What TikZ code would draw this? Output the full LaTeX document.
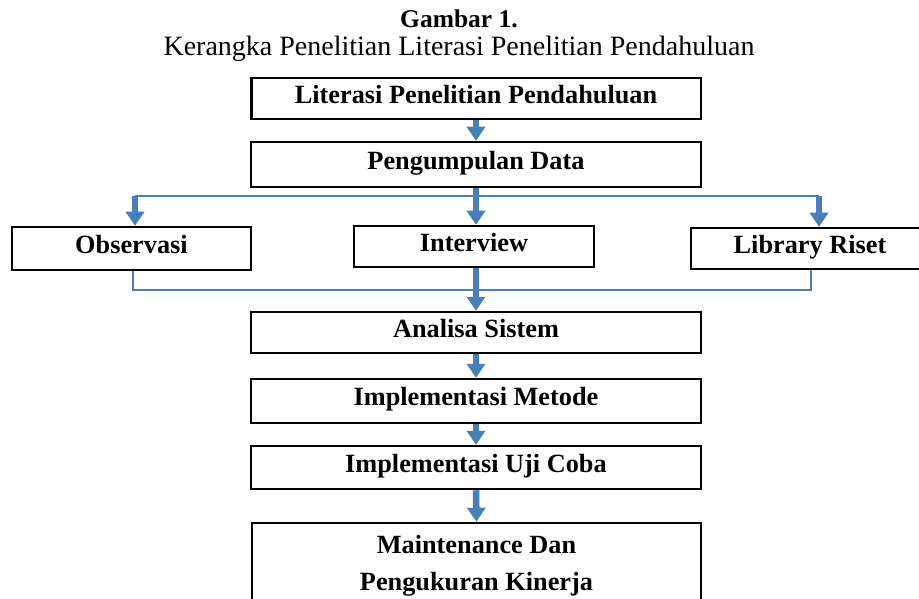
\documentclass[tikz,border=0pt]{standalone}
\usepackage{fontspec}
\setmainfont{Liberation Serif}
\usetikzlibrary{arrows.meta}
\definecolor{arrblue}{HTML}{4A7EBB}
\begin{document}
\begin{tikzpicture}[x=1pt,y=-1pt,
  box/.style={draw=black,line width=2.5pt,fill=white,inner sep=0pt,
    font=\fontsize{26.3}{37}\selectfont\bfseries,text height=18.4pt,text depth=9.2pt},
  arr/.style={draw=arrblue,line width=6.5pt,-{Triangle[width=18pt,length=14pt]}},
  thinline/.style={draw=arrblue,line width=2pt},
  titletext/.style={inner sep=0pt,anchor=base,font=\fontsize{28}{32}\selectfont}
]
\useasboundingbox (0,0) rectangle (919,599);
\fill[white] (0,0) rectangle (919,599);

\node[titletext,font=\fontsize{25.5}{30}\selectfont\bfseries] (t1) at (459,28) {Gambar 1.};
\node[titletext] (t2) at (459,56) {Kerangka Penelitian Literasi Penelitian Pendahuluan};

\node[box,minimum width=449.5pt,minimum height=41pt] (lit) at (476,98.5) {Literasi Penelitian Pendahuluan};
\node[box,minimum width=450pt,minimum height=45pt] (peng) at (476,164.5) {Pengumpulan Data};
\node[box,minimum width=239pt,minimum height=43pt] (obs) at (131.5,248.5) {Observasi};
\node[box,minimum width=240pt,minimum height=41pt] (int) at (474,246.5) {Interview};
\node[box,minimum width=238pt,minimum height=41pt] (lib) at (810,248.5) {Library Riset};
\node[box,minimum width=450pt,minimum height=41pt] (ana) at (476,332.5) {Analisa Sistem};
\node[box,minimum width=450pt,minimum height=44pt] (met) at (476,401) {Implementasi Metode};
\node[box,minimum width=450pt,minimum height=43pt] (uji) at (476,467.5) {Implementasi Uji Coba};
\node[box,minimum width=449pt,minimum height=82pt,align=center,text height=55.4pt,text depth=2.6pt] (mai) at (476.5,564) {Maintenance Dan\\Pengukuran Kinerja};

\coordinate (bl) at (135,196);
\coordinate (br) at (819,196);
\coordinate (ol) at (133,290);
\coordinate (or) at (811,290);

\draw[thinline] (bl) -- (br);
\draw[thinline] (ol |- obs.south) -- (ol) -- (or) -- (or |- lib.south);

\draw[arr] (lit.south) -- (peng.north);
\draw[arr] (peng.south) -- (peng.south |- int.north);
\draw[arr] (bl) -- (bl |- obs.north);
\draw[arr] (br) -- (br |- lib.north);
\draw[arr] (ana.north |- int.south) -- (ana.north);
\draw[arr] (ana.south) -- (met.north);
\draw[arr] (met.south) -- (uji.north);
\draw[arr] (uji.south) -- (mai.north);
\end{tikzpicture}
\end{document}
